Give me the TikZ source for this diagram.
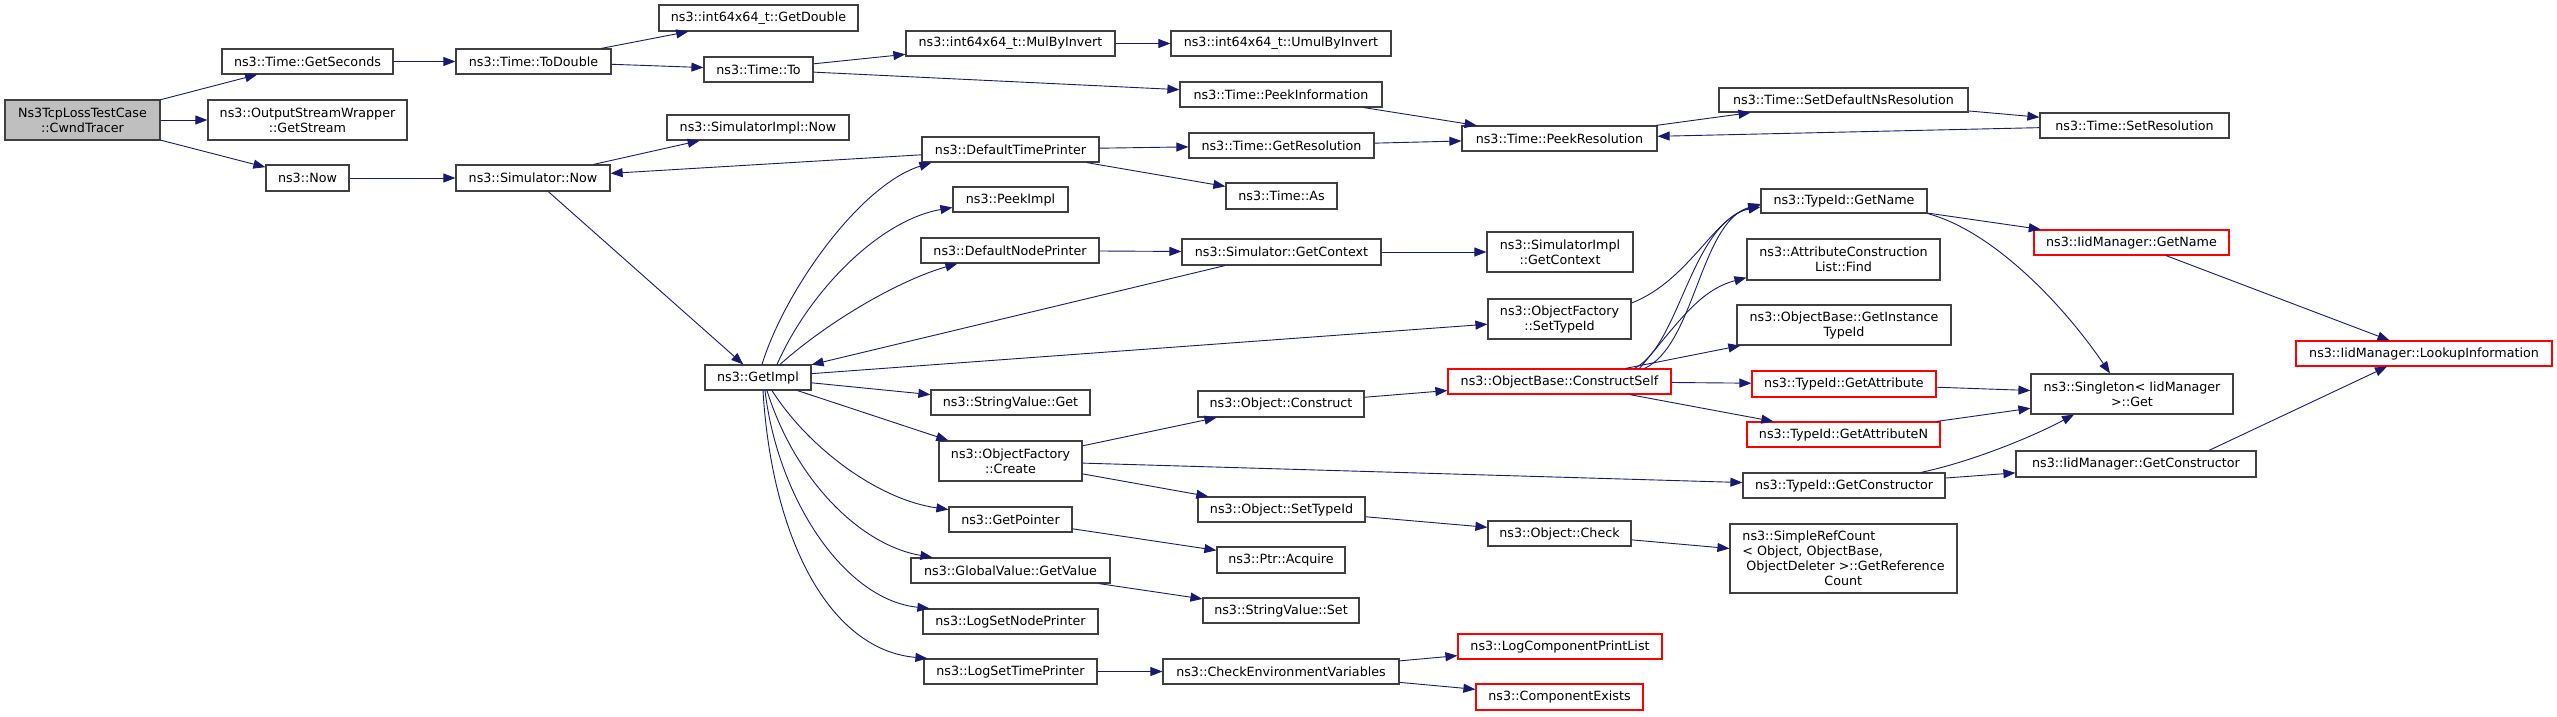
\documentclass[tikz,border=0pt]{standalone}
\usepackage{fontspec}
\setmainfont{DejaVu Sans}
\usetikzlibrary{arrows.meta}
\definecolor{edgeblue}{HTML}{191970}
\definecolor{nodegray}{HTML}{BFBFBF}
\definecolor{bordergray}{HTML}{404040}
\newcommand\fn[7]{\node[#1, minimum width={(#5)-(#4)}, minimum height={(#7)-(#6)}] (#2) at ({((#4)+(#5))/2},{((#6)+(#7))/2}) {#3};}
\begin{document}
\begin{tikzpicture}[x=1pt, y=-1pt,
  box/.style={draw=bordergray, line width=1.2pt, inner sep=0pt, align=center, font=\fontsize{12.7}{15}\selectfont},
  rbox/.style={box, draw=red},
  conn/.style={draw=edgeblue, line width=0.9pt, -{Triangle[length=12pt,width=9pt]}}]
\useasboundingbox[fill=white] (0,0) rectangle (2557,716);
\fn{box, fill=nodegray}{cw}{Ns3TcpLossTestCase\\::CwndTracer}{5}{160}{100}{140}
\fn{box}{gs}{ns3::Time::GetSeconds}{222}{393}{49}{74}
\fn{box}{osw}{ns3::OutputStreamWrapper\\::GetStream}{208}{407}{100}{140}
\fn{box}{now}{ns3::Now}{266}{349}{165}{191}
\fn{box}{td}{ns3::Time::ToDouble}{456}{611}{49}{74}
\fn{box}{gd}{ns3::int64x64\_t::GetDouble}{659}{858}{5}{31}
\fn{box}{tto}{ns3::Time::To}{704}{813}{57}{82}
\fn{box}{sin}{ns3::SimulatorImpl::Now}{667}{849}{115}{140}
\fn{box}{sn}{ns3::Simulator::Now}{456}{610}{165}{191}
\fn{box}{mbi}{ns3::int64x64\_t::MulByInvert}{906}{1115}{31}{56}
\fn{box}{umi}{ns3::int64x64\_t::UmulByInvert}{1171}{1391}{31}{56}
\fn{box}{pinf}{ns3::Time::PeekInformation}{1180}{1382}{82}{107}
\fn{box}{dtp}{ns3::DefaultTimePrinter}{922}{1099}{137}{162}
\fn{box}{gr}{ns3::Time::GetResolution}{1189}{1374}{133}{158}
\fn{box}{tas}{ns3::Time::As}{1226}{1337}{183}{209}
\fn{box}{pk}{ns3::PeekImpl}{953}{1068}{187}{212}
\fn{box}{dnp}{ns3::DefaultNodePrinter}{921}{1099}{238}{263}
\fn{box}{gi}{ns3::GetImpl}{705}{811}{365}{390}
\fn{box}{svg}{ns3::StringValue::Get}{931}{1090}{390}{415}
\fn{box}{pr}{ns3::Time::PeekResolution}{1462}{1657}{126}{151}
\fn{box}{sdn}{ns3::Time::SetDefaultNsResolution}{1719}{1968}{88}{112}
\fn{box}{sr}{ns3::Time::SetResolution}{2040}{2229}{113}{138}
\fn{box}{gn}{ns3::TypeId::GetName}{1761}{1927}{189}{213}
\fn{box}{sgc}{ns3::Simulator::GetContext}{1182}{1381}{239}{265}
\fn{box}{sig}{ns3::SimulatorImpl\\::GetContext}{1487}{1633}{232}{272}
\fn{box}{ost}{ns3::ObjectFactory\\::SetTypeId}{1488}{1631}{299}{339}
\fn{box}{find}{ns3::AttributeConstruction\\List::Find}{1747}{1940}{239}{280}
\fn{box}{git}{ns3::ObjectBase::GetInstance\\TypeId}{1737}{1951}{305}{345}
\fn{rbox}{cs}{ns3::ObjectBase::ConstructSelf}{1448}{1671}{369}{394}
\fn{rbox}{ga}{ns3::TypeId::GetAttribute}{1752}{1936}{371}{397}
\fn{rbox}{igm}{ns3::IidManager::GetName}{2034}{2229}{230}{255}
\fn{rbox}{lki}{ns3::IidManager::LookupInformation}{2296}{2552}{341}{366}
\fn{box}{sg}{ns3::Singleton< IidManager\\ >::Get}{2031}{2233}{374}{414}
\fn{rbox}{gan}{ns3::TypeId::GetAttributeN}{1747}{1940}{422}{447}
\fn{box}{igc}{ns3::IidManager::GetConstructor}{2016}{2256}{451}{477}
\fn{box}{gc}{ns3::TypeId::GetConstructor}{1743}{1945}{473}{498}
\fn{box}{oc}{ns3::Object::Check}{1488}{1631}{521}{546}
\fn{box, align=left}{src}{ns3::SimpleRefCount\\< Object, ObjectBase,\\\hspace*{4pt}ObjectDeleter >::GetReference\\\hspace*{82pt}Count}{1730}{1957}{524}{593}
\fn{rbox}{lcpl}{ns3::LogComponentPrintList}{1458}{1662}{634}{659}
\fn{rbox}{cex}{ns3::ComponentExists}{1476}{1643}{684}{710}
\fn{box}{obc}{ns3::Object::Construct}{1198}{1364}{391}{417}
\fn{box}{osti}{ns3::Object::SetTypeId}{1198}{1365}{497}{522}
\fn{box}{pa}{ns3::Ptr::Acquire}{1217}{1345}{547}{573}
\fn{box}{ssv}{ns3::StringValue::Set}{1203}{1359}{598}{623}
\fn{box}{ce}{ns3::CheckEnvironmentVariables}{1163}{1399}{659}{684}
\fn{box}{ofc}{ns3::ObjectFactory\\::Create}{939}{1082}{441}{481}
\fn{box}{gp}{ns3::GetPointer}{949}{1072}{507}{532}
\fn{box}{gvg}{ns3::GlobalValue::GetValue}{911}{1110}{558}{583}
\fn{box}{lsnp}{ns3::LogSetNodePrinter}{923}{1098}{609}{634}
\fn{box}{lstp}{ns3::LogSetTimePrinter}{924}{1097}{659}{684}
% straight connectors
\draw[conn] (cw) -- (gs);
\draw[conn] (cw) -- (osw);
\draw[conn] (cw) -- (now);
\draw[conn] (gs) -- (td);
\draw[conn] (td) -- (gd);
\draw[conn] (td) -- (tto);
\draw[conn] (tto) -- (mbi);
\draw[conn] (tto) -- (pinf);
\draw[conn] (mbi) -- (umi);
\draw[conn] (pinf) -- (pr);
\draw[conn] (now) -- (sn);
\draw[conn] (sn) -- (sin);
\draw[conn] (sn) -- (gi);
\draw[conn] (dtp) -- (sn);
\draw[conn] (dtp) -- (gr);
\draw[conn] (dtp) -- (tas);
\draw[conn] (gr) -- (pr);
\draw[conn] (pr) -- (sdn);
\draw[conn] (sdn) -- (sr);
\draw[conn] (sr) -- (pr);
\draw[conn] (dnp) -- (sgc);
\draw[conn] (sgc) -- (gi);
\draw[conn] (sgc) -- (sig);
\draw[conn] (gi) -- (ost);
\draw[conn] (gi) -- (svg);
\draw[conn] (gi) -- (ofc);
\draw[conn] (ofc) -- (obc);
\draw[conn] (ofc) -- (gc);
\draw[conn] (ofc) -- (osti);
\draw[conn] (obc) -- (cs);
\draw[conn] (cs) -- (git);
\draw[conn] (cs) -- (ga);
\draw[conn] (cs) -- (gan);
\draw[conn] (gn) -- (igm);
\draw[conn] (igm) -- (lki);
\draw[conn] (ga) -- (sg);
\draw[conn] (gan) -- (sg);
\draw[conn] (gc) -- (igc);
\draw[conn] (osti) -- (oc);
\draw[conn] (oc) -- (src);
\draw[conn] (gp) -- (pa);
\draw[conn] (gvg) -- (ssv);
\draw[conn] (lstp) -- (ce);
\draw[conn] (ce) -- (lcpl);
\draw[conn] (ce) -- (cex);
% curved connectors
\draw[conn] ([xshift=4]gi.north) .. controls (785,290) and (860,185) .. ([xshift=10]dtp.south west);
\draw[conn] ([xshift=19]gi.north) .. controls (810,290) and (880,220) .. ([yshift=-8]pk.west);
\draw[conn] ([xshift=22]gi.north) .. controls (830,320) and (900,280) .. ([xshift=37]dnp.south west);
\draw[conn] ([xshift=14]gi.south) .. controls (810,450) and (880,500) .. ([yshift=10]gp.west);
\draw[conn] ([xshift=9]gi.south) .. controls (795,480) and (860,545) .. ([xshift=22]gvg.north west);
\draw[conn] ([xshift=7]gi.south) .. controls (778,500) and (845,600) .. ([xshift=7]lsnp.north west);
\draw[conn] ([xshift=5]gi.south) .. controls (772,540) and (830,650) .. ([xshift=4]lstp.north west);
\draw[conn] ([yshift=16]ost.east) .. controls (1690,280) and (1715,215) .. ([yshift=-6]gn.west);
\draw[conn] ([xshift=75]cs.north) .. controls (1680,345) and (1690,225) .. ([yshift=-4]gn.west);
\draw[conn] ([xshift=85]cs.north) .. controls (1695,345) and (1700,222) .. ([yshift=-3]gn.west);
\draw[conn] ([xshift=80]cs.north) .. controls (1680,320) and (1700,290) .. ([yshift=3]find.south west);
\draw[conn] (gn.south east) .. controls (1990,230) and (2060,300) .. ([xshift=-22]sg.north);
\draw[conn] ([xshift=77]gc.north) .. controls (1970,462) and (2030,438) .. ([xshift=-58]sg.south);
\draw[conn] ([xshift=73]igc.north) -- ([xshift=-37]lki.south);
\end{tikzpicture}
\end{document}
